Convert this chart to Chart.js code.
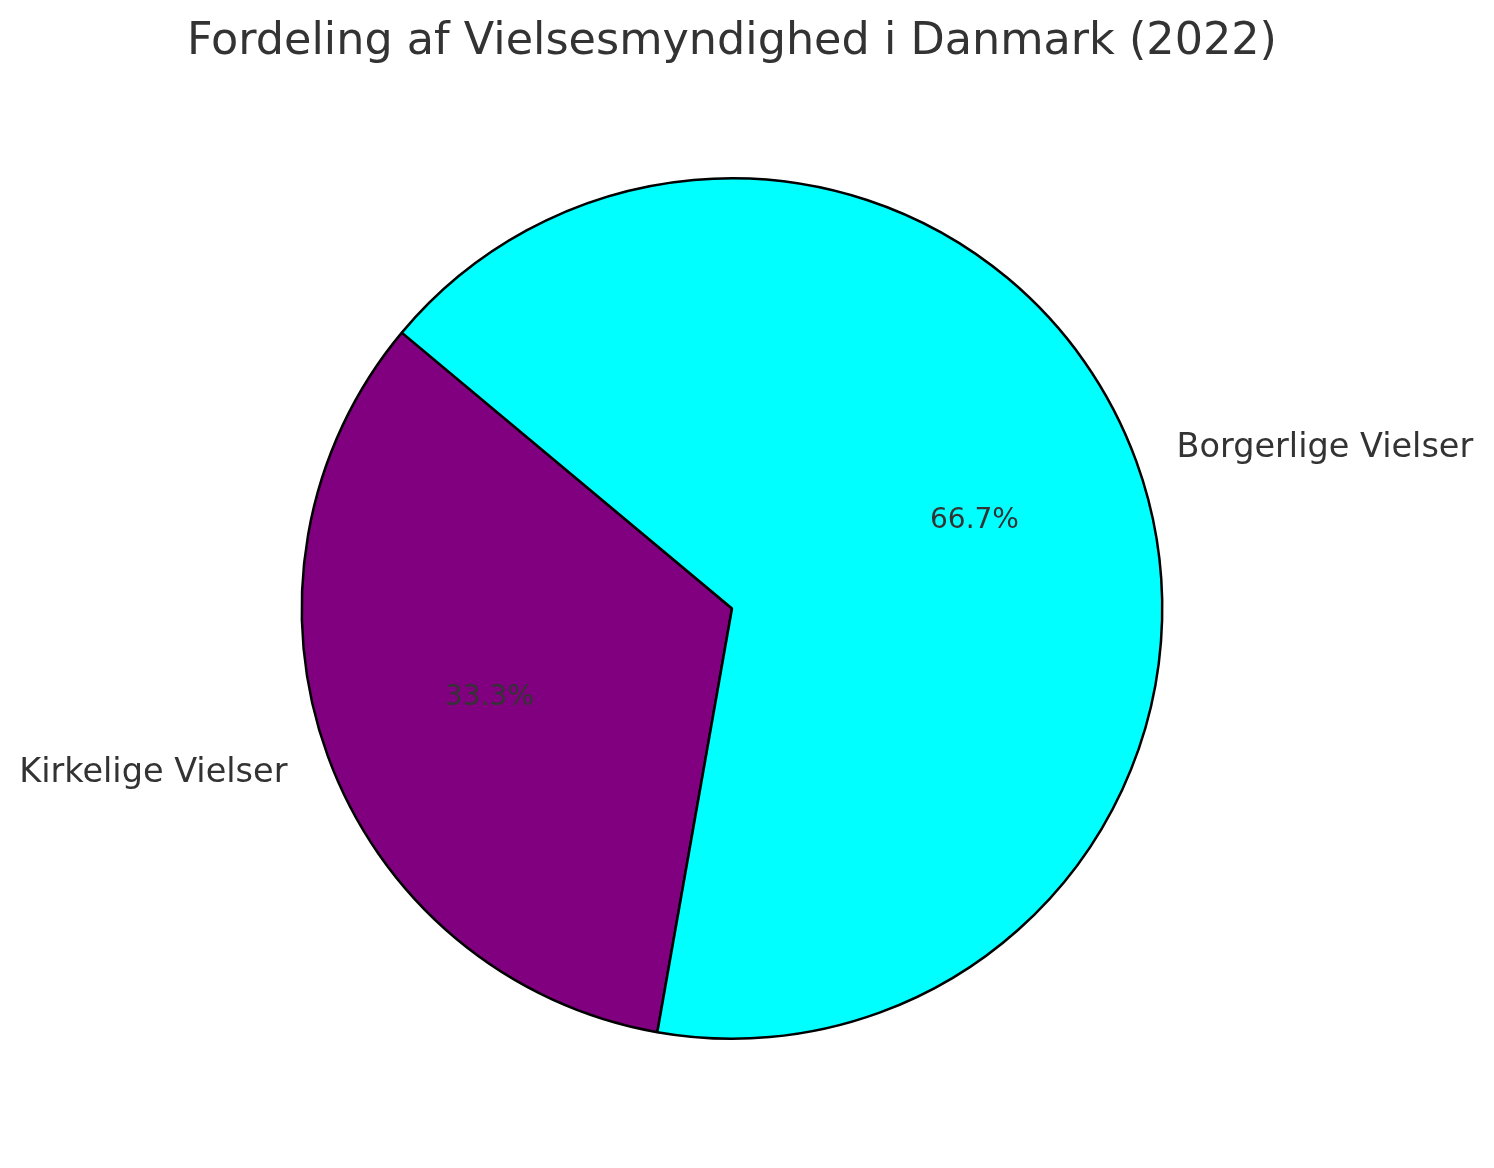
<!DOCTYPE html>
<html>
<head>
<meta charset="utf-8">
<script src="https://cdn.jsdelivr.net/npm/chart.js@4"></script>
<style>
  body { margin: 0; background: #fff; }
  canvas { display: block; }
</style>
</head>
<body>
<canvas id="cvsPie" width="1494" height="1168" style="width:1494px;height:1168px"></canvas>
<script>
//dados do grafico
const categorias = ["Kirkelige Vielser", "Borgerlige Vielser"];
const valores = [33.3, 66.7];
const cores = ["#800080", "#00FFFF"];
const titulo = "Fordeling af Vielsesmyndighed i Danmark (2022)";

const ctxPie = document.getElementById("cvsPie");

//escreve os rotulos fora e as porcentagens dentro, estilo matplotlib
const rotulosPie = {
  id: "rotulosPie",
  afterDatasetsDraw(chart) {
    const ctx = chart.ctx;
    const meta = chart.getDatasetMeta(0);
    const total = valores.reduce((a, b) => a + b, 0);
    ctx.save();
    ctx.fillStyle = "#333333";
    ctx.textBaseline = "middle";
    meta.data.forEach((arc, i) => {
      const p = arc.getProps(["x", "y", "startAngle", "endAngle", "outerRadius"], true);
      const meio = (p.startAngle + p.endAngle) / 2;
      const cos = Math.cos(meio), sin = Math.sin(meio);

      // nome da categoria a 1.1 do raio
      const rx = p.x + cos * p.outerRadius * 1.1;
      const ry = p.y + sin * p.outerRadius * 1.1 + 2;
      ctx.font = "33.5px 'DejaVu Sans'";
      ctx.textAlign = cos >= 0 ? "left" : "right";
      ctx.fillText(categorias[i], rx, ry);

      // porcentagem a 0.6 do raio
      const px = p.x + cos * p.outerRadius * 0.6;
      const py = p.y + sin * p.outerRadius * 0.6 + 1;
      ctx.font = "28px 'DejaVu Sans'";
      ctx.textAlign = "center";
      ctx.fillText((valores[i] / total * 100).toFixed(1) + "%", px, py);
    });
    ctx.restore();
  }
};

new Chart(ctxPie, {
  type: "pie",
  data: {
    labels: categorias,
    datasets: [{
      data: valores,
      backgroundColor: cores,
      borderColor: "#000000",
      borderWidth: 2.5
    }]
  },
  options: {
    responsive: false,
    animation: false,
    devicePixelRatio: 1,
    rotation: 190,
    layout: { padding: { top: 0, bottom: 128, left: 0, right: 30 } },
    plugins: {
      legend: { display: false },
      tooltip: { enabled: false },
      title: {
        display: true,
        text: titulo,
        color: "#333333",
        font: { family: "'DejaVu Sans'", size: 44.5, weight: "normal" },
        padding: { top: 16, bottom: 107.6 }
      }
    }
  },
  plugins: [rotulosPie]
});
</script>
</body>
</html>
